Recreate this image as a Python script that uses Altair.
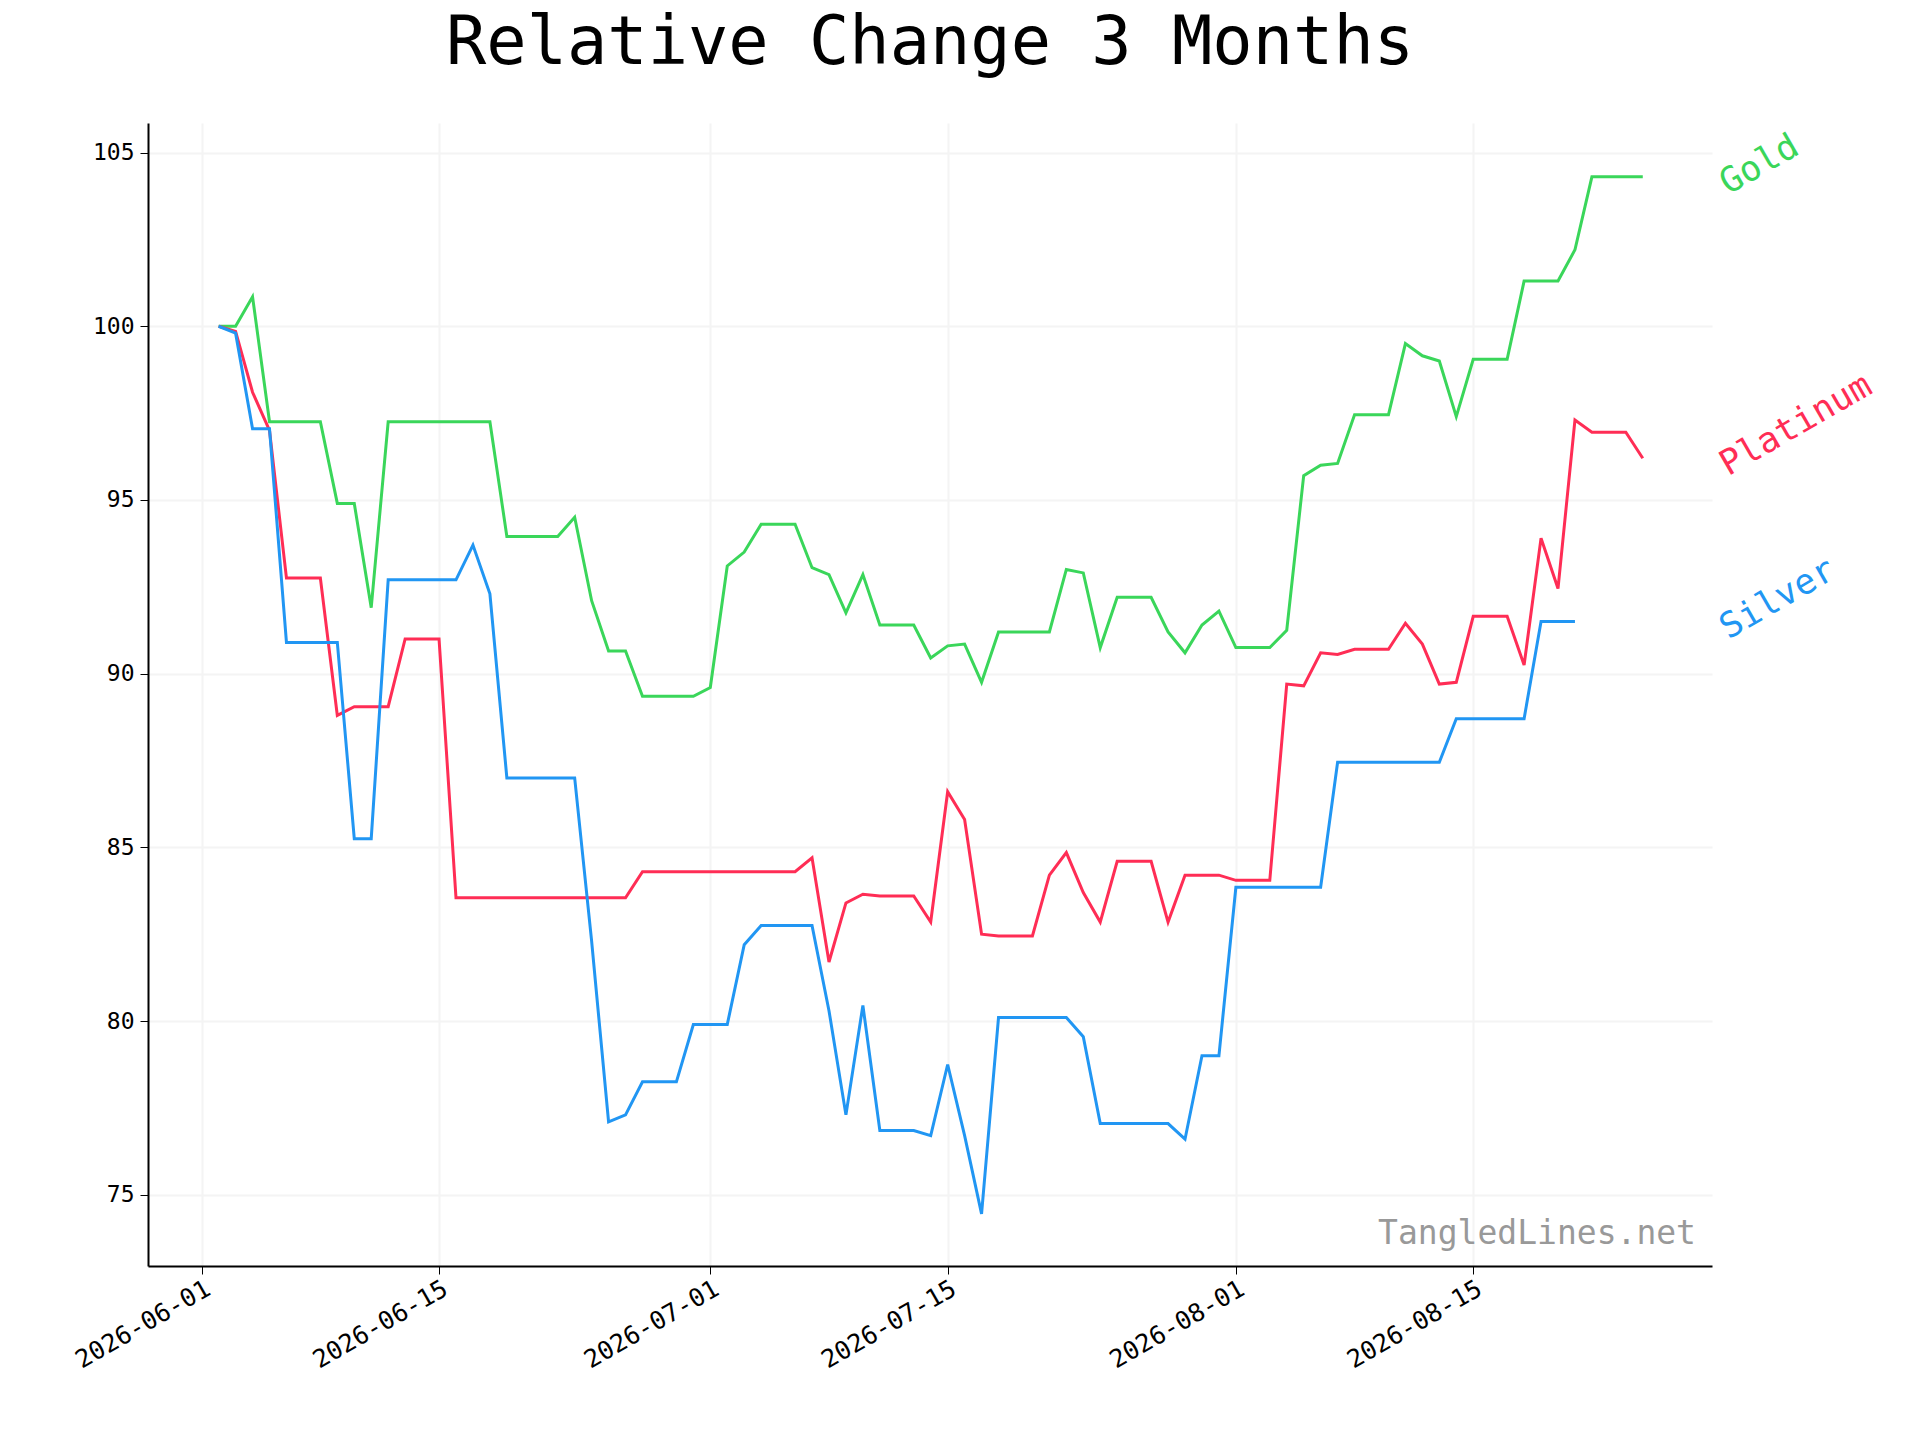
import altair as alt
import pandas as pd

# daily values, day index = days after 2026-06-01
gold = [100, 100, 100.85, 97.25, 97.25, 97.25, 97.25, 94.9, 94.9, 91.9,
        97.25, 97.25, 97.25, 97.25, 97.25, 97.25, 97.25, 93.95, 93.95, 93.95,
        93.95, 94.5, 92.1, 90.65, 90.65, 89.35, 89.35, 89.35, 89.35, 89.6,
        93.1, 93.5, 94.3, 94.3, 94.3, 93.05, 92.85, 91.75, 92.85, 91.4,
        91.4, 91.4, 90.45, 90.8, 90.85, 89.75, 91.2, 91.2, 91.2, 91.2,
        93.0, 92.9, 90.75, 92.2, 92.2, 92.2, 91.2, 90.6, 91.4, 91.8,
        90.75, 90.75, 90.75, 91.25, 95.7, 96.0, 96.05, 97.45, 97.45, 97.45,
        99.5, 99.15, 99.0, 97.4, 99.05, 99.05, 99.05, 101.3, 101.3, 101.3,
        102.2, 104.3, 104.3, 104.3, 104.3]
platinum = [100, 99.85, 98.1, 97.0, 92.75, 92.75, 92.75, 88.8, 89.05, 89.05,
            89.05, 91.0, 91.0, 91.0, 83.55, 83.55, 83.55, 83.55, 83.55, 83.55,
            83.55, 83.55, 83.55, 83.55, 83.55, 84.3, 84.3, 84.3, 84.3, 84.3,
            84.3, 84.3, 84.3, 84.3, 84.3, 84.7, 81.7, 83.4, 83.65, 83.6,
            83.6, 83.6, 82.85, 86.6, 85.8, 82.5, 82.45, 82.45, 82.45, 84.2,
            84.85, 83.7, 82.85, 84.6, 84.6, 84.6, 82.85, 84.2, 84.2, 84.2,
            84.05, 84.05, 84.05, 89.7, 89.65, 90.6, 90.55, 90.7, 90.7, 90.7,
            91.45, 90.85, 89.7, 89.75, 91.65, 91.65, 91.65, 90.25, 93.9, 92.45,
            97.3, 96.95, 96.95, 96.95, 96.2]
silver = [100, 99.8, 97.05, 97.05, 90.9, 90.9, 90.9, 90.9, 85.25, 85.25,
          92.7, 92.7, 92.7, 92.7, 92.7, 93.7, 92.3, 87.0, 87.0, 87.0,
          87.0, 87.0, 82.3, 77.1, 77.3, 78.25, 78.25, 78.25, 79.9, 79.9,
          79.9, 82.2, 82.75, 82.75, 82.75, 82.75, 80.3, 77.3, 80.45, 76.85,
          76.85, 76.85, 76.7, 78.75, 76.7, 74.45, 80.1, 80.1, 80.1, 80.1,
          80.1, 79.55, 77.05, 77.05, 77.05, 77.05, 77.05, 76.6, 79.0, 79.0,
          83.85, 83.85, 83.85, 83.85, 83.85, 83.85, 87.45, 87.45, 87.45, 87.45,
          87.45, 87.45, 87.45, 88.7, 88.7, 88.7, 88.7, 88.7, 91.5, 91.5, 91.5]

names = ["Gold", "Platinum", "Silver"]
colors = ["#3ad65a", "#ff2d55", "#2196f3"]
label_y = [103.6, 95.5, 90.8]

start = pd.Timestamp("2026-06-01")
rows = []
for name, vals in zip(names, [gold, platinum, silver]):
    for i, v in enumerate(vals):
        rows.append({"date": start + pd.Timedelta(days=i + 1), "value": v, "metal": name})
df = pd.DataFrame(rows)

labels = pd.DataFrame({"date": [pd.Timestamp("2026-08-30T06:00")] * 3,
                       "value": label_y, "metal": names})

font = "DejaVu Sans Mono"
xdom = [pd.Timestamp("2026-05-28T20:00").isoformat(), pd.Timestamp("2026-08-29T02:00").isoformat()]
ticks = [pd.Timestamp(d).isoformat() for d in
         ["2026-06-01", "2026-06-15", "2026-07-01", "2026-07-15", "2026-08-01", "2026-08-15"]]
color = alt.Color("metal:N", scale=alt.Scale(domain=names, range=colors), legend=None)

x = alt.X("date:T", title=None,
          scale=alt.Scale(domain=xdom),
          axis=alt.Axis(values=ticks, format="%Y-%m-%d", labelAngle=-30, labelAlign="right",
                        labelBaseline="top", labelFontSize=25, labelFont=font, labelColor="black",
                        tickSize=8, domainColor="black", tickColor="black", domainWidth=2,
                        gridColor="#f4f4f4", gridWidth=2, labelPadding=2))
y = alt.Y("value:Q", title=None,
          scale=alt.Scale(domain=[72.95, 105.85], nice=False, zero=False),
          axis=alt.Axis(values=[75, 80, 85, 90, 95, 100, 105], labelFontSize=23, labelFont=font,
                        labelColor="black", tickSize=8, domainColor="black", tickColor="black",
                        domainWidth=2, gridColor="#f4f4f4", gridWidth=2, labelPadding=6))

lines = alt.Chart(df).mark_line(strokeWidth=3).encode(x=x, y=y, color=color, detail="metal:N")
text = alt.Chart(labels).mark_text(angle=330, align="left", baseline="bottom", fontSize=35,
                                   font=font).encode(x="date:T", y="value:Q", text="metal:N", color=color)
mark = alt.Chart(pd.DataFrame({"t": ["TangledLines.net"]})).mark_text(
    align="right", baseline="bottom", fontSize=33, font=font, color="#999999"
).encode(x=alt.value(1548), y=alt.value(1128), text="t:N")

chart = (lines + text + mark).properties(
    width=1564, height=1143,
    autosize=alt.AutoSizeParams(type="none"),
    padding={"left": 140, "top": 115, "right": 200, "bottom": 160},
    title=alt.Title("Relative Change 3 Months", font=font, fontSize=67, fontWeight="normal",
                    color="black", anchor="middle", offset=45),
).configure_view(stroke=None).configure_axis(grid=True)

chart.save("out.html", embed_options={"renderer": "svg", "actions": False})
